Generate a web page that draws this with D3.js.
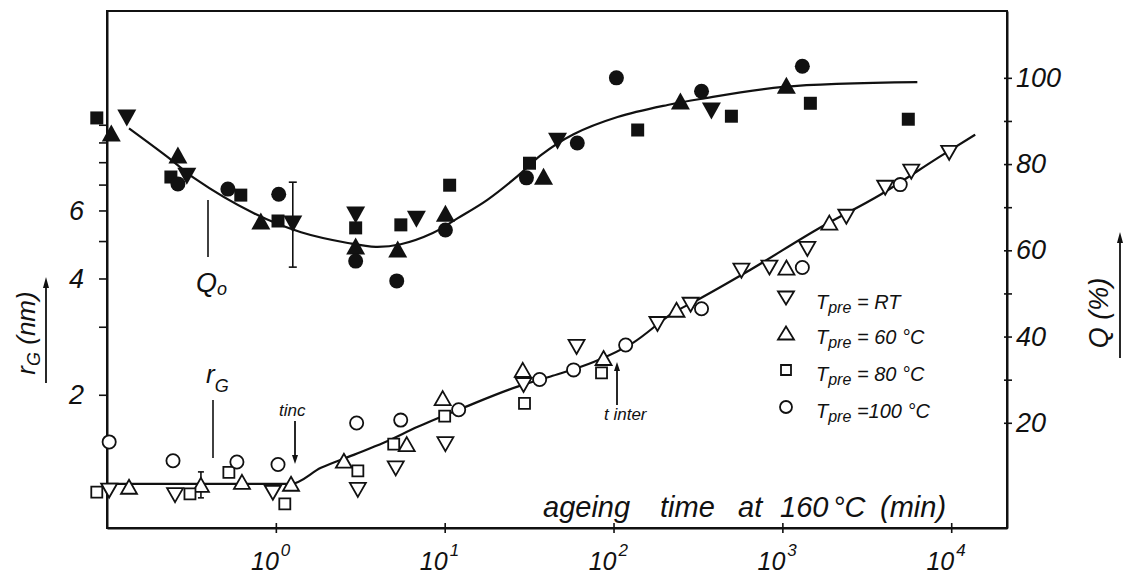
<!DOCTYPE html>
<html>
<head>
<meta charset="utf-8">
<script src="https://cdn.jsdelivr.net/npm/d3@7"></script>
<style>
  body { margin: 0; background: #fff; }
  svg text { font-family: "Liberation Sans", Arial, sans-serif; font-style: italic; fill: #111; }
</style>
</head>
<body>
<svg id="chart" width="1124" height="576"></svg>
<script>
// ---- data: ageing time t (min) at 160 °C ----
// Q (%) measured after each pre-ageing treatment (filled symbols, right axis)
const qRT  = [[0.131,90.7],[0.297,77.2],[1.26,66.1],[2.97,68.2],[6.8,67.2],[46.6,85.3],[380,92.3]];
const q60  = [[0.106,87.2],[0.263,82.1],[0.815,66.8],[2.97,61.0],[5.27,60.3],[10.1,68.6],[38.5,77.2],[249,94.6],[1056,98.3]];
const q80  = [[0.087,90.7],[0.239,77.0],[0.62,72.8],[1.03,66.8],[2.97,65.2],[5.5,65.9],[10.7,75.1],[31.8,80.2],[139,87.9],[499,91.1],[1465,94.1],[5570,90.4]];
const q100 = [[0.263,75.4],[0.52,74.2],[1.04,73.0],[2.97,57.5],[5.2,52.9],[10.1,64.7],[30.5,76.8],[61,84.9],[104,100.0],[332,96.9],[1313,102.7]];

// Guinier radius r_G (nm) (open symbols, left axis)
const rRT  = [[0.103,1.13],[0.253,1.10],[0.96,1.115],[3.06,1.135],[5.13,1.29],[10.1,1.49],[29.3,2.12],[60.4,2.66],[182,3.05],[286,3.42],[572,4.19],[838,4.27],[1406,4.77],[2392,5.78],[4065,6.87],[5800,7.56],[9730,8.46]];
const r60  = [[0.135,1.156],[0.36,1.169],[0.63,1.19],[1.23,1.177],[2.53,1.35],[5.96,1.49],[9.73,1.96],[29.0,2.32],[87.3,2.49],[236,3.32],[1057,4.27],[1897,5.58]];
const r80  = [[0.087,1.12],[0.31,1.108],[0.527,1.26],[1.13,1.044],[3.06,1.27],[4.99,1.49],[10.0,1.76],[29.7,1.90],[84.9,2.28]];
const r100 = [[0.103,1.51],[0.246,1.35],[0.588,1.34],[1.03,1.32],[3.01,1.69],[5.49,1.72],[12.1,1.83],[36.5,2.19],[58,2.32],[118,2.69],[332,3.34],[1313,4.27],[4990,7.0]];

// error bars: [t, low, high]
const qErr = [[1.26, 56.1, 75.8]];
const rErr = [[0.36, 1.082, 1.263]];

// fitted trend lines
const qFit = [[0.135,88.3],[0.233,81.4],[0.327,76.8],[0.741,68.6],[1.41,64.2],[2.67,61.7],[3.91,60.8],[5.49,61.4],[8.5,64.0],[11.9,67.4],[17.9,71.7],[27.0,77.2],[37.0,82.0],[58.0,86.9],[105.6,90.9],[209,93.7],[327,95.1],[1014,97.9],[6300,99.0]];
const rFit = [[0.101,1.176],[1.23,1.176],[1.85,1.294],[2.89,1.398],[4.35,1.502],[6.92,1.652],[12.9,1.851],[27.0,2.10],[42.4,2.23],[76.2,2.43],[131,2.73],[226,3.26],[314,3.52],[621,4.17],[1679,5.42],[3802,6.59],[8610,8.28],[13870,9.43]];

// ticks
const timeTicks = [1, 10, 100, 1000, 10000];
const timeExponents = ["0", "1", "2", "3", "4"];
const rTicks = [2, 3, 4, 5, 6, 7, 8, 9, 10];
const rLabels = [2, 4, 6];
const qTicks = [20, 30, 40, 50, 60, 70, 80, 90, 100];
const qLabels = [20, 40, 60, 80, 100];

// legend
const legendPre = ["= RT", "= 60 °C", "= 80 °C", "=100 °C"];
const legendShapes = ["down", "up", "square", "circle"];

// ---- drawing ----
const svg = d3.select("#chart");
const X0 = 107, X1 = 1007, Y0 = 528, Y1 = 11;

const x  = d3.scaleLog().domain([0.1, 21400]).range([X0, X1]);
const yr = d3.scaleLog().domain([0.904, 19.7]).range([Y0, Y1]);
const yq = d3.scaleLinear().domain([-4.4, 115.5]).range([Y0, Y1]);

const ink = "#111";

// plot frame
svg.append("rect")
  .attr("x", X0).attr("y", Y1).attr("width", X1 - X0).attr("height", Y0 - Y1)
  .attr("fill", "none").attr("stroke", ink).attr("stroke-width", 2);

// left axis: r_G (log)
const gL = svg.append("g").attr("transform", `translate(${X0},0)`)
  .call(d3.axisLeft(yr).tickValues(rTicks).tickSizeInner(8).tickSizeOuter(0).tickPadding(15)
    .tickFormat(d => rLabels.includes(d) ? d : ""));
gL.selectAll("text").attr("font-size", 27).attr("fill", ink);

// right axis: Q (%)
const gR = svg.append("g").attr("transform", `translate(${X1},0)`)
  .call(d3.axisRight(yq).tickValues(qTicks).tickSizeInner(5).tickSizeOuter(0).tickPadding(4)
    .tickFormat(d => qLabels.includes(d) ? d : ""));
gR.selectAll(".tick line").attr("x1", -3);
gR.selectAll("text").attr("font-size", 27).attr("fill", ink);

// bottom axis: ageing time (log)
const gB = svg.append("g").attr("transform", `translate(0,${Y0})`)
  .call(d3.axisBottom(x).tickValues(timeTicks).tickSizeInner(5).tickSizeOuter(0).tickFormat(""));
gB.selectAll(".tick line").attr("y1", -5);
[gL, gR, gB].forEach(g => {
  g.select(".domain").attr("stroke", ink).attr("stroke-width", 2);
  g.selectAll(".tick line").attr("stroke", ink).attr("stroke-width", 1.6);
});

const xt = svg.append("g");
timeTicks.forEach((t, i) => {
  const px = x(t);
  xt.append("text").attr("x", px + 3).attr("y", 570).attr("text-anchor", "end")
    .attr("font-size", 25).text("10");
  xt.append("text").attr("x", px + 5).attr("y", 556).attr("text-anchor", "start")
    .attr("font-size", 17).text(timeExponents[i]);
});

// fitted lines
const qLine = d3.line().x(d => x(d[0])).y(d => yq(d[1])).curve(d3.curveCatmullRom.alpha(0.5));
const rLine = d3.line().x(d => x(d[0])).y(d => yr(d[1])).curve(d3.curveMonotoneX);
svg.append("path").attr("d", qLine(qFit)).attr("fill", "none").attr("stroke", ink).attr("stroke-width", 2.2);
svg.append("path").attr("d", rLine(rFit)).attr("fill", "none").attr("stroke", ink).attr("stroke-width", 2.2);

// marker shapes
function shapePath(kind, s) {
  const p = d3.path();
  if (kind === "up") {
    p.moveTo(0, -s.h / 2); p.lineTo(s.w / 2, s.h / 2); p.lineTo(-s.w / 2, s.h / 2); p.closePath();
  } else if (kind === "down") {
    p.moveTo(0, s.h / 2); p.lineTo(s.w / 2, -s.h / 2); p.lineTo(-s.w / 2, -s.h / 2); p.closePath();
  } else if (kind === "square") {
    p.rect(-s.a / 2, -s.a / 2, s.a, s.a);
  } else {
    p.arc(0, 0, s.r, 0, 2 * Math.PI);
  }
  return p.toString();
}
const filledSize = { w: 19, h: 17, a: 13, r: 7.5 };
const openSize   = { w: 16, h: 14, a: 11, r: 6.6 };

// error bars
const eb = svg.append("g").attr("stroke", ink).attr("stroke-width", 1.6);
qErr.forEach(([t, lo, hi]) => {
  const px = x(t);
  eb.append("line").attr("x1", px).attr("x2", px).attr("y1", yq(lo)).attr("y2", yq(hi));
  eb.append("line").attr("x1", px - 4).attr("x2", px + 4).attr("y1", yq(lo)).attr("y2", yq(lo));
  eb.append("line").attr("x1", px - 4).attr("x2", px + 4).attr("y1", yq(hi)).attr("y2", yq(hi));
});
rErr.forEach(([t, lo, hi]) => {
  const px = x(t);
  eb.append("line").attr("x1", px).attr("x2", px).attr("y1", yr(lo)).attr("y2", yr(hi));
  eb.append("line").attr("x1", px - 3).attr("x2", px + 3).attr("y1", yr(lo)).attr("y2", yr(lo));
  eb.append("line").attr("x1", px - 3).attr("x2", px + 3).attr("y1", yr(hi)).attr("y2", yr(hi));
});

// Q points (filled)
const qSeries = [[qRT, "down"], [q60, "up"], [q80, "square"], [q100, "circle"]];
qSeries.forEach(([data, kind]) => {
  svg.append("g").selectAll("path").data(data).join("path")
    .attr("d", shapePath(kind, filledSize))
    .attr("transform", d => `translate(${x(d[0])},${yq(d[1])})`)
    .attr("fill", ink).attr("stroke", "none");
});

// r_G points (open)
const rSeries = [[rRT, "down"], [r60, "up"], [r80, "square"], [r100, "circle"]];
rSeries.forEach(([data, kind]) => {
  svg.append("g").selectAll("path").data(data).join("path")
    .attr("d", shapePath(kind, openSize))
    .attr("transform", d => `translate(${x(d[0])},${yr(d[1])})`)
    .attr("fill", "#fff").attr("stroke", ink).attr("stroke-width", 1.8);
});

// legend
const lg = svg.append("g");
const legendY = [298, 333, 370, 407];
legendShapes.forEach((kind, i) => {
  lg.append("path").attr("d", shapePath(kind, { w: 16, h: 13, a: 10, r: 6 }))
    .attr("transform", `translate(786,${legendY[i]})`)
    .attr("fill", "#fff").attr("stroke", ink).attr("stroke-width", 1.8);
  const t = lg.append("text").attr("x", 816).attr("y", legendY[i] + 11).attr("font-size", 20);
  t.append("tspan").text("T");
  t.append("tspan").attr("font-size", 16).attr("dy", 4).text("pre");
  t.append("tspan").attr("dy", -4).text(" " + legendPre[i]);
});

// axis titles
const xTitle = svg.append("text").attr("y", 517).attr("font-size", 29);
[["ageing", 543], ["time", 660], ["at", 738], ["160", 780], ["°C", 833], ["(min)", 880]]
  .forEach(([w, px]) => xTitle.append("tspan").attr("x", px).text(w));

const yTitleL = svg.append("text").attr("transform", "translate(35,333) rotate(-90)")
  .attr("text-anchor", "middle").attr("font-size", 26);
yTitleL.append("tspan").text("r");
yTitleL.append("tspan").attr("font-size", 18).attr("dy", 5).text("G");
yTitleL.append("tspan").attr("dy", -5).text(" (nm)");

svg.append("text").attr("transform", "translate(1108,313) rotate(-90)")
  .attr("text-anchor", "middle").attr("font-size", 27).text("Q (%)");

// vertical arrows beside axis titles
function arrow(x0, yFrom, yTo, head) {
  const dir = Math.sign(yTo - yFrom);
  svg.append("line").attr("x1", x0).attr("x2", x0).attr("y1", yFrom).attr("y2", yTo - dir * head * 0.6)
    .attr("stroke", ink).attr("stroke-width", 1.8);
  svg.append("path")
    .attr("d", `M${x0},${yTo} L${x0 - 3},${yTo - dir * head} L${x0 + 3},${yTo - dir * head} Z`)
    .attr("fill", ink);
}
arrow(46, 383, 277, 11);
arrow(1120, 358, 232, 11);

// annotations
const ann = svg.append("g");
ann.append("line").attr("x1", 208).attr("x2", 208).attr("y1", 200).attr("y2", 257)
  .attr("stroke", ink).attr("stroke-width", 1.6);
const qo = ann.append("text").attr("x", 196).attr("y", 292).attr("font-size", 27);
qo.append("tspan").text("Q");
qo.append("tspan").attr("font-size", 18).attr("dy", 3).text("o");

ann.append("line").attr("x1", 213).attr("x2", 213).attr("y1", 400).attr("y2", 458)
  .attr("stroke", ink).attr("stroke-width", 1.6);
const rg = ann.append("text").attr("x", 206).attr("y", 383).attr("font-size", 26);
rg.append("tspan").text("r");
rg.append("tspan").attr("font-size", 18).attr("dy", 9).text("G");

ann.append("text").attr("x", 279).attr("y", 416).attr("font-size", 17).text("tinc");
arrow(295, 421, 464, 9);
ann.append("text").attr("x", 604).attr("y", 420).attr("font-size", 17).text("t inter");
arrow(617, 405, 362, 9);
</script>
</body>
</html>
